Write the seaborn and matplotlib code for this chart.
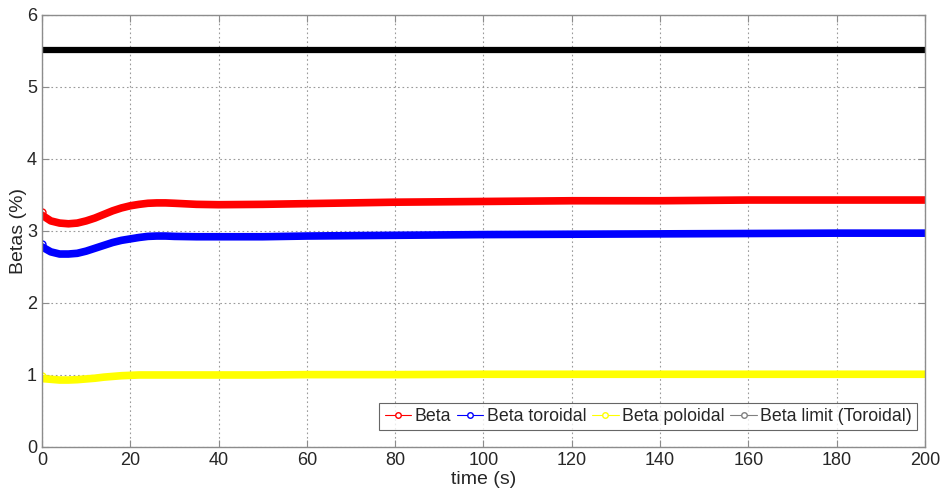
import numpy as np
import pandas as pd
import matplotlib
matplotlib.use("Agg")
import matplotlib.pyplot as plt
from matplotlib.lines import Line2D
import seaborn as sns

time = [0, 2, 4, 6, 8, 10, 12, 14, 16, 18, 20, 22, 24, 26, 28, 30, 35, 40, 50, 60, 80, 100, 120, 140, 160, 180, 200]
beta = [3.22, 3.14, 3.11, 3.10, 3.11, 3.14, 3.18, 3.23, 3.28, 3.32, 3.35, 3.37, 3.385, 3.39, 3.39, 3.385, 3.37, 3.365, 3.37, 3.38, 3.40, 3.41, 3.42, 3.42, 3.43, 3.43, 3.43]
beta_tor = [2.78, 2.71, 2.68, 2.68, 2.69, 2.72, 2.76, 2.80, 2.84, 2.87, 2.89, 2.91, 2.925, 2.93, 2.93, 2.925, 2.92, 2.92, 2.92, 2.93, 2.94, 2.95, 2.955, 2.96, 2.965, 2.97, 2.97]
beta_pol = [0.95, 0.94, 0.93, 0.93, 0.935, 0.945, 0.955, 0.97, 0.98, 0.99, 0.995, 1.0, 1.0, 1.0, 1.0, 1.0, 1.0, 1.0, 1.0, 1.005, 1.005, 1.01, 1.01, 1.01, 1.01, 1.01, 1.01]
beta_lim = [5.52] * len(time)

labels = ["Beta", "Beta toroidal", "Beta poloidal", "Beta limit (Toroidal)"]
colors = ["#ff0000", "#0000ff", "#ffff00", "#000000"]
series = [beta, beta_tor, beta_pol, beta_lim]

frames = []
for lab, vals in zip(labels, series):
    frames.append(pd.DataFrame({"time": time, "value": vals, "series": lab}))
df = pd.concat(frames, ignore_index=True)

sns.set_style("white")
plt.rcParams["font.family"] = ["Liberation Sans", "DejaVu Sans"]

fig = plt.figure(figsize=(9.41, 4.90), dpi=100)
ax = fig.add_axes([0.0446, 0.0878, 0.9384, 0.8816])

widths = {"Beta": 5.5, "Beta toroidal": 5.5, "Beta poloidal": 5.5, "Beta limit (Toroidal)": 4.5}
for lab, col in zip(labels, colors):
    sub = df[df["series"] == lab]
    sns.lineplot(data=sub, x="time", y="value", color=col, linewidth=widths[lab],
                 ax=ax, legend=False, sort=False, estimator=None,
                 solid_capstyle="round")
# open circle at start of the curved series
for lab, col in zip(labels[:3], colors[:3]):
    sub = df[df["series"] == lab]
    ax.plot(sub["time"].iloc[:1], sub["value"].iloc[:1] + 0.04, marker="o", mfc="white",
            mec=col, ms=5, mew=1, linestyle="none", zorder=1)

ax.set_xlim(0, 200)
ax.set_ylim(0, 6)
ax.set_xticks(np.arange(0, 201, 20))
ax.set_yticks(np.arange(0, 7, 1))
ax.grid(True, color="#9a9a9a", linestyle=(0, (1.5, 2.5)), linewidth=0.8)
ax.set_axisbelow(True)
for s in ax.spines.values():
    s.set_color("#8c8c8c")
    s.set_linewidth(1)
ax.tick_params(direction="in", length=5, color="#8c8c8c", labelsize=13,
               labelcolor="#262626", top=True, right=True, bottom=True, left=True)
ax.set_xlabel("time (s)", fontsize=14, color="#262626")
ax.set_ylabel("Betas (%)", fontsize=14, color="#262626")
ax.xaxis.set_label_coords(0.5, -0.076)
ax.yaxis.set_label_coords(-0.027, 0.5)
ax.xaxis.label.set_va("center")
ax.yaxis.label.set_va("center")

handles = [Line2D([0], [0], color=c, lw=0.8, marker="o", mfc="white", mec=c, ms=4)
           for c in colors]
handles[3] = Line2D([0], [0], color="#808080", lw=0.8, marker="o", mfc="white", mec="#808080", ms=4)
leg = ax.legend(handles, labels, ncol=4, loc="lower right", bbox_to_anchor=(0.9955, 0.03),
                fontsize=12.8, frameon=True, fancybox=False, handlelength=1.5,
                handletextpad=0.2, columnspacing=0.3, borderpad=0.3, borderaxespad=0.2)
leg.get_frame().set_edgecolor("#404040")
leg.get_frame().set_linewidth(0.8)

fig.savefig("out.png", dpi=100)
